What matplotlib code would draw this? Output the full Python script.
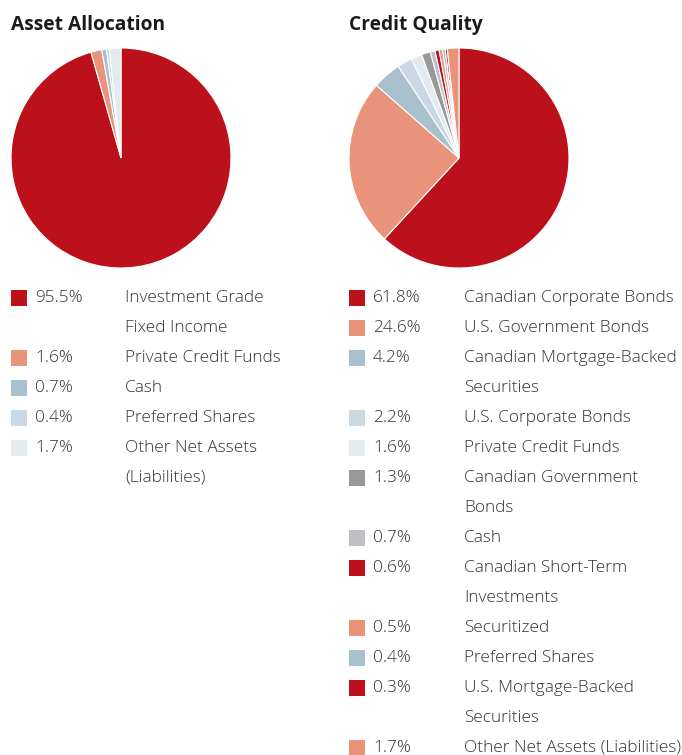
import matplotlib
matplotlib.use("Agg")
import matplotlib.pyplot as plt
from matplotlib.patches import Rectangle

# Asset allocation breakdown
asset_labels = ["Investment Grade\nFixed Income", "Private Credit Funds", "Cash",
                "Preferred Shares", "Other Net Assets\n(Liabilities)"]
asset_values = [95.5, 1.6, 0.7, 0.4, 1.7]
asset_colors = ["#BC111A", "#E8937A", "#A9C0CD", "#C9D8E3", "#E3EAF0"]

# Credit quality breakdown
credit_labels = ["Canadian Corporate Bonds", "U.S. Government Bonds",
                 "Canadian Mortgage-Backed\nSecurities", "U.S. Corporate Bonds",
                 "Private Credit Funds", "Canadian Government\nBonds", "Cash",
                 "Canadian Short-Term\nInvestments", "Securitized", "Preferred Shares",
                 "U.S. Mortgage-Backed\nSecurities", "Other Net Assets (Liabilities)"]
credit_values = [61.8, 24.6, 4.2, 2.2, 1.6, 1.3, 0.7, 0.6, 0.5, 0.4, 0.3, 1.7]
credit_colors = ["#BC111A", "#E8937A", "#A9C0CD", "#C9D8E3", "#E3EAF0", "#999999",
                 "#BDBFC4", "#BC111A", "#E8937A", "#A9C0CD", "#BC111A", "#E8937A"]

W, H = 682, 755
fig = plt.figure(figsize=(W / 100, H / 100), dpi=100)
fig.patch.set_facecolor("white")

FONT = "Open Sans"
TEXT_COLOR = "#333333"


def px(x, y):
    return x / W, 1 - y / H


def draw_panel(title, x0, cx, values, colors, labels, pct_x, lab_x):
    fig.text(*px(x0, 25), title, fontsize=13.8, fontweight="bold",
             family=FONT, color="#1a1a1a", va="center", ha="left")
    r = 110
    ax = fig.add_axes([(cx - r) / W, 1 - (158 + r) / H, 2 * r / W, 2 * r / H])
    ax.pie(values, colors=colors, startangle=90, counterclock=False, radius=1,
           wedgeprops=dict(edgecolor="white", linewidth=0.8))
    ax.set_xlim(-1.0, 1.0)
    ax.set_ylim(-1.0, 1.0)
    ax.set_aspect("equal")
    ax.axis("off")

    y = 298
    step = 30
    for v, c, lab in zip(values, colors, labels):
        fig.patches.append(Rectangle(px(x0, y + 8), 16 / W, 16 / H,
                                     transform=fig.transFigure, facecolor=c,
                                     edgecolor="none"))
        fig.text(*px(pct_x, y), f"{v:.1f}%", fontsize=12.4, family=FONT,
                 fontweight="light", color=TEXT_COLOR, va="center", ha="left")
        lines = lab.split("\n")
        for i, line in enumerate(lines):
            fig.text(*px(lab_x, y + i * step), line, fontsize=12.4, family=FONT,
                     fontweight="light", color=TEXT_COLOR, va="center", ha="left")
        y += step * len(lines)


draw_panel("Asset Allocation", 11, 121, asset_values, asset_colors, asset_labels, 35, 125)
draw_panel("Credit Quality", 349, 459, credit_values, credit_colors, credit_labels, 373, 464)

fig.savefig("out.png", dpi=100, facecolor="white")
